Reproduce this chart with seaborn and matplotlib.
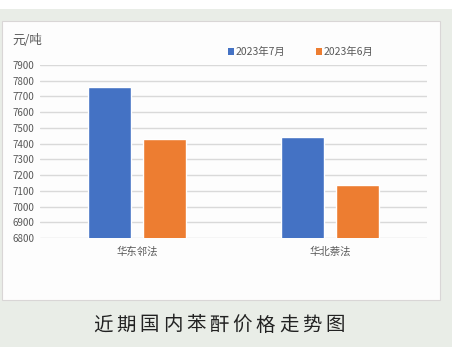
import matplotlib
matplotlib.use("Agg")
import matplotlib.pyplot as plt
import seaborn as sns
import pandas as pd
from matplotlib.patches import Rectangle

categories = ["华东邻法", "华北萘法"]
series_names = ["2023年7月", "2023年6月"]
jul_values = [7760, 7440]
jun_values = [7430, 7140]
y_ticks = list(range(6800, 8000, 100))
colors = ["#4472C4", "#ED7D31"]
caption = "近期国内苯酐价格走势图"

df = pd.DataFrame({
    "cat": categories * 2,
    "series": [series_names[0]] * 2 + [series_names[1]] * 2,
    "value": jul_values + jun_values,
})

sns.set_theme(style="white")
plt.rcParams['font.family'] = ['Noto Sans CJK SC', 'DejaVu Sans']

W, H = 459, 357
fig = plt.figure(figsize=(W / 100, H / 100), dpi=100)
fig.patch.set_facecolor("white")

def px_rect(x0, y0, x1, y1, **kw):
    fig.patches.append(Rectangle((x0 / W, 1 - y1 / H), (x1 - x0) / W, (y1 - y0) / H,
                                 transform=fig.transFigure, figure=fig, **kw))

px_rect(0, 9, 452, 347, facecolor="#e9ede7", edgecolor="none", zorder=-2)
px_rect(2, 21, 440, 300, facecolor="#fdfdfd", edgecolor="#d9d6d6", linewidth=0.8, zorder=-1)

ax = fig.add_axes([40 / W, 1 - 238 / H, (427 - 40) / W, (238 - 65) / H])
ax.set_zorder(2)
ax.set_facecolor("none")
sns.barplot(data=df, x="cat", y="value", hue="series", palette=colors,
            width=0.565, gap=0.21, ax=ax, legend=False, saturation=1, zorder=3)

ax.set_ylim(6800, 7900)
ax.set_xlim(-0.503, 1.503)
ax.set_yticks(y_ticks)
ax.set_yticklabels([str(t) for t in y_ticks], fontsize=7, color="#595959")
ax.tick_params(axis="x", labelsize=7.5, labelcolor="#595959", length=0, pad=6)
ax.tick_params(axis="y", length=0, pad=4)
ax.set_xlabel("")
ax.set_ylabel("")
ax.grid(axis="y", color="#d9d9d9", linewidth=1, zorder=0)
ax.set_axisbelow(True)
for s in ax.spines.values():
    s.set_visible(False)

fig.text(12 / W, 1 - 40 / H, "元/吨", fontsize=9, color="#595959", va="center", ha="left")

# legend
for i, (name, c) in enumerate(zip(series_names, colors)):
    x = [228, 316][i]
    px_rect(x, 48.5, x + 6, 54.5, facecolor=c, edgecolor="none", zorder=2)
    fig.text((x + 8) / W, 1 - 51.5 / H, name, fontsize=7.5, color="#595959",
             va="center", ha="left")

# caption with letter spacing
x0, step = 103, 23.2
for i, ch in enumerate(caption):
    fig.text((x0 + i * step) / W, 1 - 325 / H, ch, fontsize=14, color="#222222",
             va="center", ha="center")

fig.savefig("out.png", dpi=100)
